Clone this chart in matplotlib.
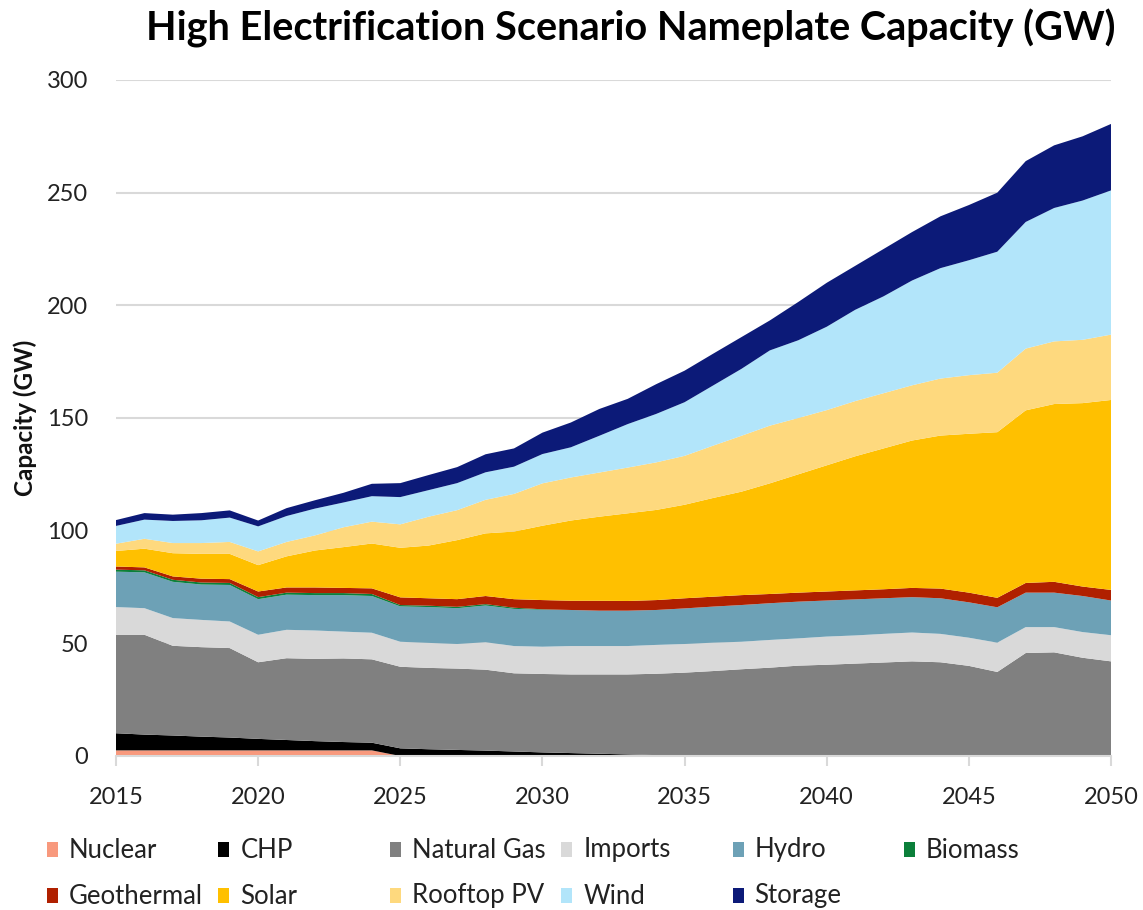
import matplotlib
matplotlib.use("Agg")
import matplotlib.pyplot as plt
from matplotlib.patches import Rectangle

plt.rcParams['font.family'] = ['Lato', 'DejaVu Sans']

years = list(range(2015, 2051))

nuclear = [2.5] * 10 + [0.0] * 26
chp = [7.6, 7.0, 6.6, 6.1, 5.7, 5.1, 4.6, 4.1, 3.7, 3.4,
       3.4, 3.0, 2.7, 2.4, 2.0, 1.6, 1.3, 1.0, 0.7, 0.4,
       0.1] + [0.0] * 15
natural_gas = [43.7, 44.3, 39.8, 39.7, 39.7, 34.0, 36.3, 36.5, 37.1, 37.0,
               36.2, 36.1, 36.1, 35.9, 34.7, 34.8, 34.9, 35.2, 35.5, 36.1,
               36.9, 37.7, 38.5, 39.2, 40.1, 40.5, 41.0, 41.5, 42.0, 41.6,
               40.0, 37.3, 45.7, 46.0, 43.6, 42.0]
imports = [12.3, 11.8, 12.3, 12.1, 11.8, 12.2, 12.6, 12.6, 11.9, 11.8,
           11.1, 11.1, 10.9, 12.2, 12.1, 12.1, 12.6, 12.6, 12.6, 12.8,
           12.7, 12.6, 12.2, 12.3, 12.1, 12.5, 12.5, 12.7, 12.8, 12.6,
           12.5, 13.0, 11.5, 11.2, 11.4, 11.6]
hydro = [15.7, 15.9, 16.1, 15.7, 16.2, 15.8, 15.6, 15.7, 16.2, 16.3,
         15.7, 15.9, 15.9, 16.3, 16.5, 16.4, 16.0, 15.7, 15.7, 15.5,
         15.8, 16.0, 16.3, 16.3, 16.3, 16.0, 16.0, 15.8, 15.7, 15.8,
         15.7, 15.7, 15.3, 15.3, 16.0, 15.4]
biomass = [0.9] * 10 + [0.6, 0.6, 0.6, 0.6, 0.5, 0.2] + [0.0] * 20
geothermal = [1.4, 1.3, 1.5, 1.7, 1.7, 2.5, 2.3, 2.5, 2.3, 2.5,
              3.4, 3.3, 3.4, 3.6, 3.8, 4.1, 4.1, 4.4, 4.3, 4.4,
              4.5, 4.4, 4.4, 4.1, 4.0, 4.0, 4.0, 4.0, 4.1, 4.3,
              4.3, 4.2, 4.3, 4.8, 4.2, 4.7]
solar = [6.9, 8.3, 10.3, 11.0, 11.2, 11.7, 13.8, 16.4, 18.1, 19.9,
         22.0, 23.4, 26.2, 27.8, 30.0, 33.0, 35.6, 37.3, 38.9, 40.0,
         41.5, 43.8, 45.9, 49.1, 52.5, 56.0, 59.5, 62.5, 65.4, 67.9,
         70.5, 73.5, 76.6, 78.9, 81.4, 84.3]
rooftop_pv = [3.2, 4.4, 4.5, 4.8, 5.3, 6.1, 6.4, 6.7, 8.8, 9.7,
              10.4, 12.8, 13.3, 14.9, 16.7, 18.8, 19.1, 19.6, 20.3, 21.1,
              21.7, 23.2, 24.8, 25.6, 25.0, 24.5, 24.5, 24.5, 24.5, 25.3,
              26.0, 26.4, 27.4, 27.8, 28.1, 29.0]
wind = [7.9, 8.5, 9.8, 10.1, 10.8, 11.1, 11.5, 11.9, 11.0, 11.3,
        12.1, 11.8, 12.0, 12.2, 12.1, 13.0, 13.4, 16.3, 19.3, 21.5,
        23.8, 26.7, 29.7, 33.4, 34.5, 37.0, 40.5, 43.0, 46.5, 49.0,
        51.0, 53.7, 56.2, 59.2, 61.8, 64.0]
storage = [2.6, 2.9, 2.8, 3.2, 3.2, 2.6, 3.5, 3.7, 4.3, 5.5,
           6.2, 6.7, 7.1, 8.0, 8.1, 9.5, 11.0, 11.9, 11.2, 13.2,
           14.0, 14.1, 14.1, 13.3, 17.0, 19.5, 19.5, 21.0, 21.5, 23.0,
           24.5, 26.2, 27.0, 27.8, 28.5, 29.5]

labels = ["Nuclear", "CHP", "Natural Gas", "Imports", "Hydro", "Biomass",
          "Geothermal", "Solar", "Rooftop PV", "Wind", "Storage"]
colors = ["#F8997D", "#000000", "#808080", "#D9D9D9", "#6DA1B6", "#0B7F3A",
          "#B02000", "#FFC000", "#FED97E", "#B2E5FA", "#0C1A78"]
series = [nuclear, chp, natural_gas, imports, hydro, biomass,
          geothermal, solar, rooftop_pv, wind, storage]

W, H = 1143, 910
fig = plt.figure(figsize=(W / 100, H / 100), dpi=100)
ax = fig.add_axes([116 / W, 1 - 756 / H, 995 / W, 676 / H])

ax.stackplot(years, *series, colors=colors, labels=labels, linewidth=0, zorder=2)

ax.set_xlim(2015, 2050)
ax.set_ylim(0, 300)
ax.set_xticks(range(2015, 2051, 5))
ax.set_yticks(range(0, 301, 50))
ax.yaxis.grid(True, color="#D9D9D9", linewidth=1.5, zorder=0)
ax.set_axisbelow(True)
for side in ("left", "right", "top"):
    ax.spines[side].set_visible(False)
ax.spines["bottom"].set_color("#D9D9D9")
ax.spines["bottom"].set_linewidth(1.5)
ax.spines["bottom"].set_zorder(3)
ax.tick_params(axis="x", direction="out", length=7, width=1.5, color="#D9D9D9",
               pad=15, labelsize=17, labelcolor="#222222")
ax.tick_params(axis="y", length=0, pad=20, labelsize=17, labelcolor="#222222")

ax.set_ylabel("Capacity (GW)", fontsize=17.5, fontweight="bold", color="#111111")
ax.yaxis.set_label_coords(-0.079, 0.5)

fig.text(631 / W, 1 - 28 / H, "High Electrification Scenario Nameplate Capacity (GW)",
         ha="center", va="center", fontsize=28.5, fontweight="bold")

# two-row legend below the axis
col_x = [47 + 171.4 * k for k in range(6)]
row_y = [850, 896]
for i, (lab, col) in enumerate(zip(labels, colors)):
    r, c = divmod(i, 6)
    x0 = col_x[c]
    y0 = row_y[r]
    fig.patches.append(Rectangle((x0 / W, 1 - (y0 + 7) / H), 11 / W, 15 / H,
                                 transform=fig.transFigure, facecolor=col,
                                 edgecolor="none"))
    fig.text((x0 + 22) / W, 1 - y0 / H, lab, ha="left", va="center",
             fontsize=18.5, color="#222222")

fig.savefig("out.png", dpi=100)
